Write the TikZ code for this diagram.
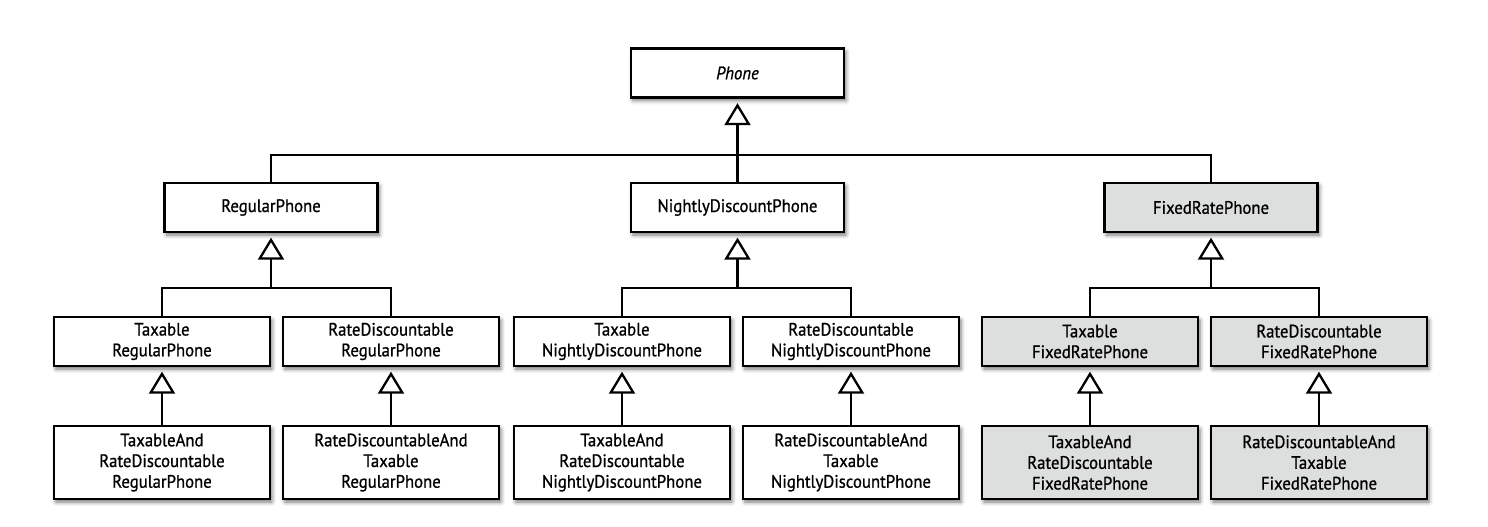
\documentclass[tikz,border=0pt]{standalone}
\usepackage{fontspec}
\setmainfont{PT Sans}[FakeBold=0.9, FakeStretch=0.93]
\usetikzlibrary{arrows.meta, shadows.blur}
\definecolor{boxgray}{RGB}{221,222,222}
\tikzstyle{clsbox} = [rectangle, draw, line width=1.15pt, fill=white,
    align=center, inner sep=0pt, minimum width=106.5pt, minimum height=24.5pt,
    font=\fontsize{9pt}{10.35pt}\selectfont,
    blur shadow={shadow xshift=1pt, shadow yshift=-1.5pt, shadow blur radius=2pt, shadow opacity=55}]
\tikzstyle{subbox} = [clsbox, minimum width=108pt]
\tikzstyle{leafbox} = [subbox, minimum height=36.5pt]
\tikzstyle{grayed} = [fill=boxgray]
\tikzstyle{bar} = [coordinate]
\tikzstyle{link} = [draw, line width=1.15pt]
\tikzstyle{inherit} = [draw, line width=1.15pt, shorten >=2.25pt,
    -{Triangle[open, length=11pt, width=13pt]}]

\begin{document}
\begin{tikzpicture}[node distance=67pt]
    \useasboundingbox (-368.75pt,36.5pt) rectangle (375.25pt,-226.5pt);

    % Nodes
    \node [clsbox] (phone) {\textit{Phone}};
    \node [clsbox, below of=phone, node distance=67.25pt] (nightly) {NightlyDiscountPhone};
    \node [clsbox, left of=nightly, node distance=233.25pt] (regular) {RegularPhone};
    \node [clsbox, grayed, right of=nightly, node distance=236.75pt] (fixedrate) {FixedRatePhone};

    % Second row of subclasses
    \node [subbox, below of=nightly, xshift=-57.75pt] (taxnightly) {Taxable\\NightlyDiscountPhone};
    \node [subbox, right of=taxnightly, node distance=114.5pt] (ratenightly) {RateDiscountable\\NightlyDiscountPhone};
    \node [subbox, left of=taxnightly, node distance=115.5pt] (rateregular) {RateDiscountable\\RegularPhone};
    \node [subbox, left of=rateregular, node distance=114.5pt] (taxregular) {Taxable\\RegularPhone};
    \node [subbox, grayed, right of=ratenightly, node distance=119.5pt] (taxfixed) {Taxable\\FixedRatePhone};
    \node [subbox, grayed, right of=taxfixed, node distance=114.5pt] (ratefixed) {RateDiscountable\\FixedRatePhone};

    % Combined subclasses
    \node [leafbox, below of=taxregular, node distance=60.5pt] (bothregular) {TaxableAnd\\RateDiscountable\\RegularPhone};
    \node [leafbox, below of=rateregular, node distance=60.5pt] (revregular) {RateDiscountableAnd\\Taxable\\RegularPhone};
    \node [leafbox, below of=taxnightly, node distance=60.5pt] (bothnightly) {TaxableAnd\\RateDiscountable\\NightlyDiscountPhone};
    \node [leafbox, below of=ratenightly, node distance=60.5pt] (revnightly) {RateDiscountableAnd\\Taxable\\NightlyDiscountPhone};
    \node [leafbox, grayed, below of=taxfixed, node distance=60.5pt] (bothfixed) {TaxableAnd\\RateDiscountable\\FixedRatePhone};
    \node [leafbox, grayed, below of=ratefixed, node distance=60.5pt] (revfixed) {RateDiscountableAnd\\Taxable\\FixedRatePhone};

    % Junction points
    \node [bar, below of=phone, node distance=41pt] (phonebar) {};
    \node [bar, below of=regular, node distance=40.25pt] (regularbar) {};
    \node [bar, below of=nightly, node distance=40.25pt] (nightlybar) {};
    \node [bar, below of=fixedrate, node distance=40.25pt] (fixedbar) {};

    % Arrows
    \draw [link] (regular.north) |- (phonebar) -| (fixedrate.north);
    \draw [link] (nightly.north) -- (phonebar);
    \draw [inherit] (phonebar) -- (phone);

    \draw [link] (taxregular.north) |- (regularbar) -| (rateregular.north);
    \draw [inherit] (regularbar) -- (regular);
    \draw [link] (taxnightly.north) |- (nightlybar) -| (ratenightly.north);
    \draw [inherit] (nightlybar) -- (nightly);
    \draw [link] (taxfixed.north) |- (fixedbar) -| (ratefixed.north);
    \draw [inherit] (fixedbar) -- (fixedrate);

    \draw [inherit] (bothregular) -- (taxregular);
    \draw [inherit] (revregular) -- (rateregular);
    \draw [inherit] (bothnightly) -- (taxnightly);
    \draw [inherit] (revnightly) -- (ratenightly);
    \draw [inherit] (bothfixed) -- (taxfixed);
    \draw [inherit] (revfixed) -- (ratefixed);

\end{tikzpicture}
\end{document}
